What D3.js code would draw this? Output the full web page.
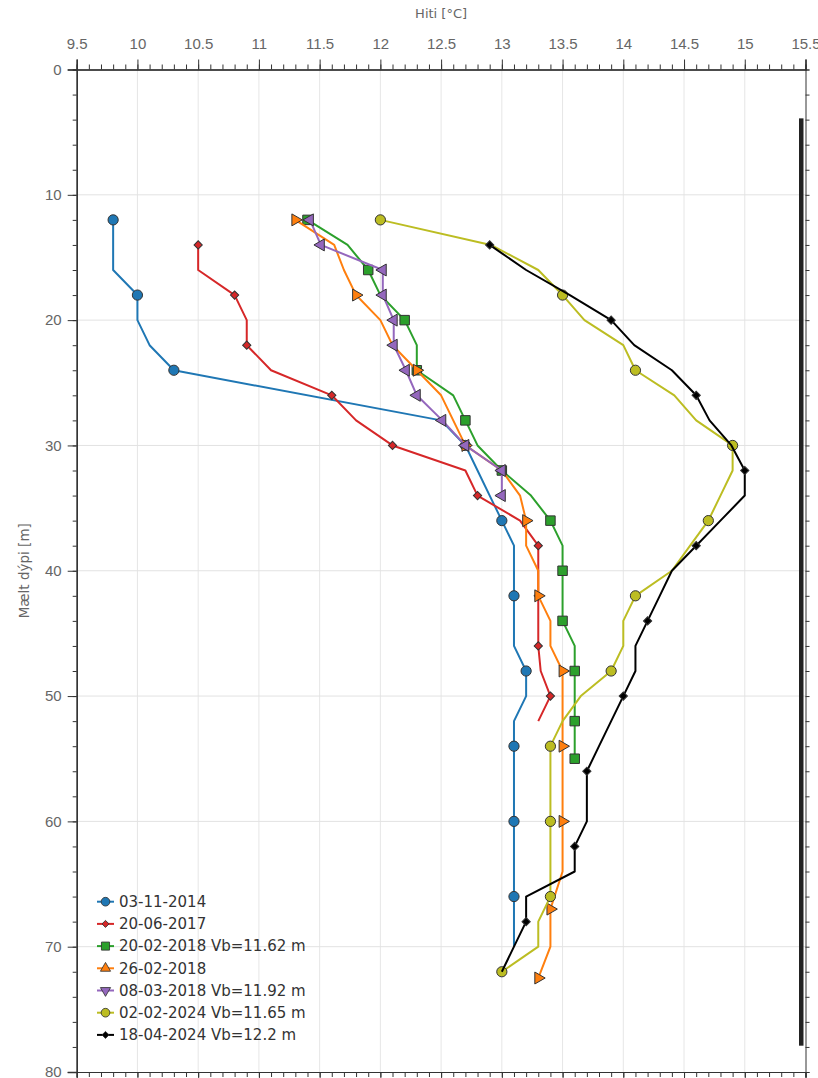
<!DOCTYPE html>
<html>
<head>
<meta charset="utf-8">
<script src="https://cdn.jsdelivr.net/npm/d3@7"></script>
<style>
  body { margin: 0; background: #fff; }
  svg { display: block; font-family: "DejaVu Sans", sans-serif; }
  .axis path, .axis line { stroke: #333; }
  .axis text { fill: #666; font-size: 15px; }
</style>
</head>
<body>
<script>
// Hitamælingar í borholu: hiti [°C] á móti dýpi [m]

// 03-11-2014
const s1Depth = [12, 14, 16, 18, 20, 22, 24, 28, 30, 32, 34, 36, 38, 40, 42, 44, 46, 48, 50, 52, 54, 56, 58, 60, 62, 64, 66, 68, 70]
const s1Temp = [9.8, 9.8, 9.8, 10.0, 10.0, 10.1, 10.3, 12.5, 12.7, 12.8, 12.9, 13.0, 13.1, 13.1, 13.1, 13.1, 13.1, 13.2, 13.2, 13.1, 13.1, 13.1, 13.1, 13.1, 13.1, 13.1, 13.1, 13.1, 13.1]
const s1Marks = [12, 18, 24, 30, 36, 42, 48, 54, 60, 66]

// 20-06-2017
const s2Depth = [14, 16, 18, 20, 22, 24, 26, 28, 30, 32, 34, 36, 38, 40, 42, 44, 46, 48, 50, 52]
const s2Temp = [10.5, 10.5, 10.8, 10.9, 10.9, 11.1, 11.6, 11.8, 12.1, 12.7, 12.8, 13.15, 13.3, 13.3, 13.3, 13.3, 13.3, 13.32, 13.4, 13.3]
const s2Marks = [14, 18, 22, 26, 30, 34, 38, 42, 46, 50]

// 20-02-2018 Vb=11.62 m
const s3Depth = [12, 14, 16, 18, 20, 22, 24, 26, 28, 30, 32, 34, 36, 38, 40, 42, 44, 46, 48, 50, 52, 55]
const s3Temp = [11.4, 11.73, 11.9, 12.0, 12.2, 12.3, 12.3, 12.6, 12.7, 12.8, 13.0, 13.24, 13.4, 13.5, 13.5, 13.5, 13.5, 13.6, 13.6, 13.6, 13.6, 13.6]
const s3Marks = [12, 16, 20, 24, 28, 32, 36, 40, 44, 48, 52, 55]

// 26-02-2018
const s4Depth = [12, 14, 16, 18, 20, 22, 24, 26, 28, 30, 32, 34, 36, 38, 40, 42, 44, 46, 48, 50, 52, 54, 56, 58, 60, 62, 64, 67, 70, 72.5]
const s4Temp = [11.3, 11.62, 11.7, 11.8, 12.0, 12.1, 12.3, 12.5, 12.6, 12.7, 13.0, 13.15, 13.2, 13.2, 13.3, 13.3, 13.4, 13.4, 13.5, 13.5, 13.5, 13.5, 13.5, 13.5, 13.5, 13.5, 13.5, 13.4, 13.4, 13.3]
const s4Marks = [12, 18, 24, 30, 36, 42, 48, 54, 60, 67, 72.5]

// 08-03-2018 Vb=11.92 m
const s5Depth = [12, 14, 16, 18, 20, 22, 24, 26, 28, 30, 32, 34]
const s5Temp = [11.42, 11.51, 12.02, 12.02, 12.11, 12.11, 12.21, 12.3, 12.51, 12.7, 13.0, 13.0]
const s5Marks = [12, 14, 16, 18, 20, 22, 24, 26, 28, 30, 32, 34]

// 02-02-2024 Vb=11.65 m
const s6Depth = [12, 14, 16, 18, 20, 22, 24, 26, 28, 30, 32, 34, 36, 38, 40, 42, 44, 46, 48, 50, 52, 54, 56, 58, 60, 62, 64, 66, 68, 70, 72]
const s6Temp = [12.0, 12.91, 13.3, 13.5, 13.68, 14.0, 14.1, 14.42, 14.6, 14.9, 14.9, 14.8, 14.7, 14.55, 14.4, 14.1, 14.0, 14.0, 13.9, 13.65, 13.5, 13.4, 13.4, 13.4, 13.4, 13.4, 13.4, 13.4, 13.3, 13.3, 13.0]
const s6Marks = [12, 18, 24, 30, 36, 42, 48, 54, 60, 66, 72]

// 18-04-2024 Vb=12.2 m
const s7Depth = [14, 16, 18, 20, 22, 24, 26, 28, 30, 32, 34, 36, 38, 40, 42, 44, 46, 48, 50, 52, 54, 56, 58, 60, 62, 64, 66, 68, 70, 72]
const s7Temp = [12.9, 13.2, 13.56, 13.9, 14.09, 14.4, 14.6, 14.71, 14.89, 15.0, 15.0, 14.8, 14.6, 14.4, 14.3, 14.2, 14.1, 14.1, 14.0, 13.9, 13.8, 13.7, 13.7, 13.7, 13.6, 13.6, 13.2, 13.2, 13.1, 13.0]
const s7Marks = [14, 20, 26, 32, 38, 44, 50, 56, 62, 68]

const seriesNames = ['03-11-2014', '20-06-2017', '20-02-2018 Vb=11.62 m', '26-02-2018', '08-03-2018 Vb=11.92 m', '02-02-2024 Vb=11.65 m', '18-04-2024 Vb=12.2 m']
const seriesColors = ['#1f77b4', '#d62728', '#2ca02c', '#ff7f0e', '#9467bd', '#bcbd22', '#000000']
const xTicks = [9.5, 10, 10.5, 11, 11.5, 12, 12.5, 13, 13.5, 14, 14.5, 15, 15.5]
const yTicks = [0, 10, 20, 30, 40, 50, 60, 70, 80]

const width = 818
const height = 1078
const margin = {top: 69.5, right: 12.5, bottom: 6, left: 76.7}

const svg = d3.select('body').append('svg')
  .attr('width', width)
  .attr('height', height)

const x = d3.scaleLinear().domain([9.5, 15.5]).range([margin.left, width - margin.right])
const y = d3.scaleLinear().domain([0, 80]).range([margin.top, height - margin.bottom])

// grid
svg.append('g').selectAll('line').data(xTicks.slice(1, -1)).join('line')
  .attr('x1', d => x(d)).attr('x2', d => x(d))
  .attr('y1', y(0)).attr('y2', y(80))
  .attr('stroke', '#e6e6e6')
svg.append('g').selectAll('line').data(yTicks.slice(1, -1)).join('line')
  .attr('x1', x(9.5)).attr('x2', x(15.5))
  .attr('y1', d => y(d)).attr('y2', d => y(d))
  .attr('stroke', '#e2e2e2')

// axes: minor first, then major with labels
const minorX = d3.range(95, 156).map(d => d / 10)
const minorY = d3.range(0, 81, 2)

svg.append('g').attr('class', 'axis')
  .attr('transform', `translate(0,${y(0)})`)
  .call(d3.axisTop(x).tickValues(minorX).tickSize(5).tickFormat(''))
svg.append('g').attr('class', 'axis')
  .attr('transform', `translate(0,${y(0)})`)
  .call(d3.axisTop(x).tickValues(xTicks).tickSize(10).tickPadding(11).tickFormat(d3.format('')))
  .call(g => g.select('.domain').attr('stroke-width', 1.5))

svg.append('g').attr('class', 'axis')
  .attr('transform', `translate(0,${y(80)})`)
  .call(d3.axisBottom(x).tickValues(minorX).tickSize(5).tickFormat(''))
svg.append('g').attr('class', 'axis')
  .attr('transform', `translate(0,${y(80)})`)
  .call(d3.axisBottom(x).tickValues(xTicks).tickSize(10).tickFormat(''))

svg.append('g').attr('class', 'axis')
  .attr('transform', `translate(${x(9.5)},0)`)
  .call(d3.axisLeft(y).tickValues(minorY).tickSize(4).tickFormat(''))
svg.append('g').attr('class', 'axis')
  .attr('transform', `translate(${x(9.5)},0)`)
  .call(d3.axisLeft(y).tickValues(yTicks).tickSize(9).tickPadding(6))
  .call(g => g.select('.domain').attr('stroke-width', 1.5))

svg.append('g').attr('class', 'axis')
  .attr('transform', `translate(${x(15.5)},0)`)
  .call(d3.axisRight(y).tickValues(minorY).tickSize(4).tickFormat(''))
  .call(g => g.selectAll('path, line').attr('stroke', '#888'))

// dark bar along the right edge
svg.append('rect')
  .attr('x', x(15.5) - 6.5).attr('y', y(3.9))
  .attr('width', 4.5).attr('height', y(77.9) - y(3.9))
  .attr('fill', '#222')

// axis titles
svg.append('text')
  .attr('x', x(12.5)).attr('y', 18)
  .attr('text-anchor', 'middle')
  .attr('font-size', 13).attr('fill', '#666')
  .text('Hiti [°C]')
svg.append('text')
  .attr('transform', `translate(29,${y(40)}) rotate(-90)`)
  .attr('text-anchor', 'middle')
  .attr('font-size', 13.5).attr('fill', '#666')
  .text('Mælt dýpi [m]')

// markers
const symCircle = d3.symbol().type(d3.symbolCircle).size(82)()
const symSquare = d3.symbol().type(d3.symbolSquare).size(90)()
const symDiamond = d3.symbol().type(d3.symbolSquare).size(34)()
const symTri = d3.symbol().type(d3.symbolTriangle).size(62)()

const series = [
  {depth: s1Depth, temp: s1Temp, marks: s1Marks, sym: symCircle, rot: 0, lsym: symCircle, lrot: 0},
  {depth: s2Depth, temp: s2Temp, marks: s2Marks, sym: symDiamond, rot: 45, lsym: symDiamond, lrot: 45},
  {depth: s3Depth, temp: s3Temp, marks: s3Marks, sym: symSquare, rot: 0, lsym: symSquare, lrot: 0},
  {depth: s4Depth, temp: s4Temp, marks: s4Marks, sym: symTri, rot: 90, lsym: symTri, lrot: 0},
  {depth: s5Depth, temp: s5Temp, marks: s5Marks, sym: symTri, rot: -90, lsym: symTri, lrot: 180},
  {depth: s6Depth, temp: s6Temp, marks: s6Marks, sym: symCircle, rot: 0, lsym: symCircle, lrot: 0},
  {depth: s7Depth, temp: s7Temp, marks: s7Marks, sym: symDiamond, rot: 45, lsym: symDiamond, lrot: 45}
]
series.forEach((s, i) => {
  s.name = seriesNames[i]
  s.color = seriesColors[i]
  s.points = s.depth.map((d, j) => ({depth: d, temp: s.temp[j]}))
})

const line = d3.line().x(d => x(d.temp)).y(d => y(d.depth))

const plot = svg.append('g')
series.forEach(s => {
  const g = plot.append('g')
  g.append('path')
    .datum(s.points)
    .attr('d', line)
    .attr('fill', 'none')
    .attr('stroke', s.color)
    .attr('stroke-width', 2)
    .attr('stroke-linejoin', 'round')
  g.selectAll('path.m')
    .data(s.points.filter(p => s.marks.includes(p.depth)))
    .join('path')
    .attr('class', 'm')
    .attr('d', s.sym)
    .attr('transform', d => `translate(${x(d.temp)},${y(d.depth)}) rotate(${s.rot})`)
    .attr('fill', s.color)
    .attr('stroke', '#333')
    .attr('stroke-width', 1)
})

// legend
const legend = svg.append('g')
  .attr('transform', 'translate(97,901.7)')
const rows = legend.selectAll('g').data(series).join('g')
  .attr('transform', (d, i) => `translate(0,${i * 22.2})`)
rows.append('line')
  .attr('x1', 0).attr('x2', 17)
  .attr('stroke', d => d.color).attr('stroke-width', 2)
rows.append('path')
  .attr('d', d => d.lsym)
  .attr('transform', d => `translate(8.5,0) rotate(${d.lrot}) scale(0.85)`)
  .attr('fill', d => d.color)
  .attr('stroke', '#333')
rows.append('text')
  .attr('x', 22).attr('dy', '0.35em')
  .attr('font-size', 15).attr('fill', '#333')
  .text(d => d.name)
</script>
</body>
</html>
